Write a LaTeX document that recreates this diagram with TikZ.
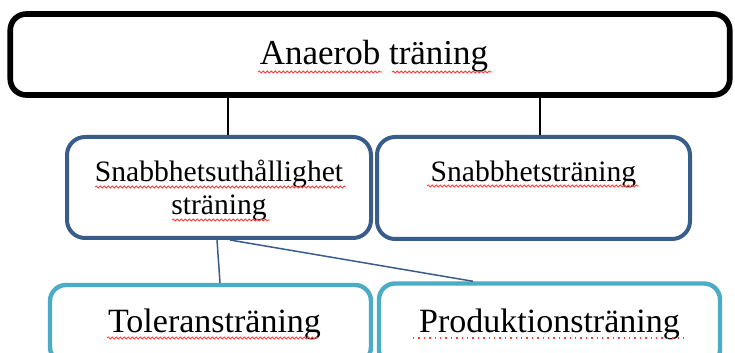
\documentclass[tikz,border=0pt]{standalone}
\usepackage{fontspec}
\setmainfont{Liberation Serif}
\usetikzlibrary{decorations.pathmorphing}
\definecolor{mork}{HTML}{385D8A}
\definecolor{ljus}{HTML}{4BACC6}
\definecolor{rodstav}{HTML}{FF3B3B}

\begin{document}
\begin{tikzpicture}[x=0.5pt, y=-0.5pt,
    ruta/.style={draw, rounded corners=8pt, fill=white, inner sep=0pt},
    huvud/.style={ruta, line width=2.8pt, minimum width=359.75pt, minimum height=40.5pt, text height=13.3pt, font=\fontsize{17.5}{21}\selectfont},
    mellan/.style={ruta, draw=mork, line width=2pt, rounded corners=9pt, align=center, text depth=0pt, font=\fontsize{14.8}{16.5}\selectfont},
    nedre/.style={ruta, draw=ljus, line width=2.2pt, font=\fontsize{17}{20}\selectfont},
    vag/.style={rodstav, line width=0.4pt, decorate, decoration={snake, amplitude=0.5pt, segment length=2pt}},
    prick/.style={rodstav, line width=0.7pt, dotted}]

    % 1. Ramen
    \useasboundingbox (0,0) rectangle (735,353);
    \clip (0,0) rectangle (735,353);

    % 2. Rutorna
    \node[huvud] (anaerob) at (370,54.5) {\hspace*{4pt}Anaerob träning};
    \node[mellan, minimum width=152pt, minimum height=50.5pt] (uthallighet) at (219,187.5) {Snabbhetsuthållighet\\sträning};
    \node[mellan, minimum width=156.5pt, minimum height=51pt] (snabbhet) at (533.5,188) {Snabbhetsträning\\\mbox{}};
    \node[nedre, minimum width=160.5pt, minimum height=39pt] (tolerans) at (210.5,324) {\hspace*{4pt}Toleransträning};
    \node[nedre, minimum width=170.5pt, minimum height=41pt] (produktion) at (549.5,324.5) {Produktionsträning};

    % 3. Linjerna
    \draw[line width=0.75pt] ([xshift=4.5pt]anaerob.south -| uthallighet.north) -- ([xshift=4.5pt]uthallighet.north);
    \draw[line width=0.75pt] ([xshift=3.25pt]anaerob.south -| snabbhet.north) -- ([xshift=3.25pt]snabbhet.north);
    \draw[mork, line width=0.75pt] ([xshift=-1pt]uthallighet.south) -- ([xshift=4.75pt]tolerans.north);
    \draw[mork, line width=0.75pt] ([xshift=5.5pt]uthallighet.south) -- ([xshift=-38.25pt]produktion.north);

    % 4. Stavningskontrollen
    \draw[vag] (258,72) -- (382,72);
    \draw[vag] (392,72) -- (492,72);
    \draw[vag] (95,187) -- (346,187);
    \draw[vag] (172,220) -- (270,220);
    \draw[vag] (427,186) -- (639,186);
    \draw[vag] (107,338) -- (318,338);
    \draw[prick] (413,338) -- (685,338);

\end{tikzpicture}
\end{document}
